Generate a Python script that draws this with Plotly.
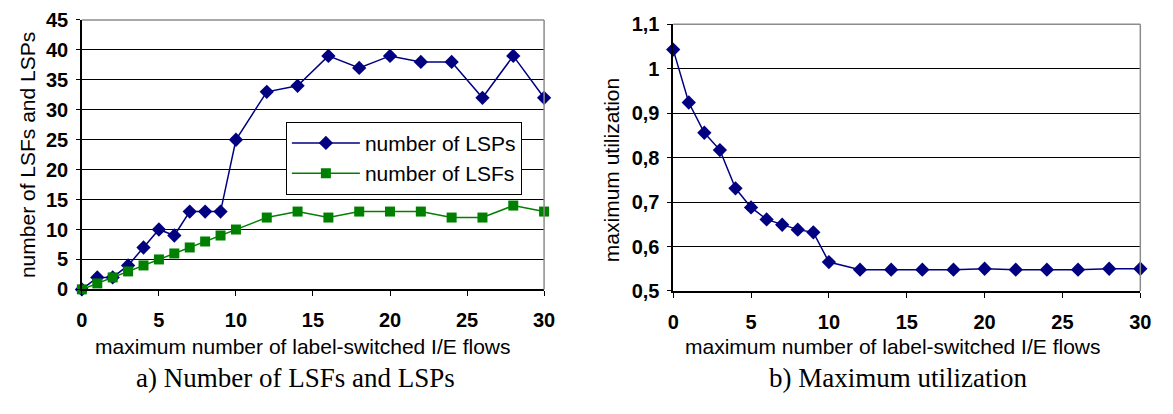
import plotly.graph_objects as go

W, H = 1173, 414

# ---- data ----
flows = [0, 1, 2, 3, 4, 5, 6, 7, 8, 9, 10, 12, 14, 16, 18, 20, 22, 24, 26, 28, 30]
num_lsps = [0, 2, 2, 4, 7, 10, 9, 13, 13, 13, 25, 33, 34, 39, 37, 39, 38, 38, 32, 39, 32]
num_lsfs = [0, 1, 2, 3, 4, 5, 6, 7, 8, 9, 10, 12, 13, 12, 13, 13, 13, 12, 12, 14, 13]
max_util = [1.043, 0.924, 0.856, 0.817, 0.731, 0.688, 0.661, 0.649, 0.638, 0.632, 0.565,
            0.548, 0.548, 0.548, 0.548, 0.550, 0.548, 0.548, 0.548, 0.550, 0.550]

x_ticks = [0, 5, 10, 15, 20, 25, 30]
left_y_ticks = [0, 5, 10, 15, 20, 25, 30, 35, 40, 45]
right_y_ticks = [0.5, 0.6, 0.7, 0.8, 0.9, 1.0, 1.1]
right_y_labels = ["0,5", "0,6", "0,7", "0,8", "0,9", "1", "1,1"]

x_title = "maximum number of label-switched I/E flows"
left_y_title = "number of LSFs and LSPs"
right_y_title = "maximum utilization"
left_caption = "a) Number of LSFs and LSPs"
right_caption = "b) Maximum utilization"

BLUE = "#000080"
GREEN = "#008000"
SANS = "Liberation Sans, Arial, sans-serif"
SERIF = "Liberation Serif, Times New Roman, serif"


def px(x):
    return x / W


def py(y):
    return 1 - y / H


fig = go.Figure()

fig.add_trace(go.Scatter(
    x=flows, y=num_lsps, mode="lines+markers", name="number of LSPs",
    line=dict(color=BLUE, width=1.5),
    marker=dict(symbol="diamond", size=11, color=BLUE),
    cliponaxis=False, xaxis="x", yaxis="y"))
fig.add_trace(go.Scatter(
    x=flows, y=num_lsfs, mode="lines+markers", name="number of LSFs",
    line=dict(color=GREEN, width=1.5),
    marker=dict(symbol="square", size=10, color=GREEN),
    cliponaxis=False, xaxis="x", yaxis="y"))
fig.add_trace(go.Scatter(
    x=flows, y=max_util, mode="lines+markers", name="maximum utilization",
    line=dict(color=BLUE, width=1.5),
    marker=dict(symbol="diamond", size=11, color=BLUE),
    cliponaxis=False, showlegend=False, xaxis="x2", yaxis="y2"))

tickfont = dict(family=SANS, size=20, color="black", weight="bold")

xcommon = dict(range=[0, 30], tickvals=x_ticks, showgrid=False, zeroline=False,
               showline=True, linecolor="black", linewidth=1.5,
               ticks="outside", ticklen=5, tickcolor="black", tickwidth=1.3,
               tickfont=tickfont, ticklabelstandoff=7)
ycommon = dict(showgrid=True, gridcolor="black", gridwidth=1.4, zeroline=False,
               showline=True, linecolor="black", linewidth=1.5,
               ticks="outside", ticklen=4, tickcolor="black", tickwidth=1.3,
               tickfont=tickfont, ticklabelstandoff=4)

fig.update_layout(
    width=W, height=H,
    margin=dict(l=0, r=0, t=0, b=0),
    paper_bgcolor="white", plot_bgcolor="white",
    xaxis=dict(domain=[px(77), px(546)], anchor="y", **xcommon),
    yaxis=dict(domain=[py(294), py(9.5)], anchor="x", range=[0, 45],
               tickvals=left_y_ticks, **ycommon),
    xaxis2=dict(domain=[px(677), px(1151)], anchor="y2", **xcommon),
    yaxis2=dict(domain=[py(295.7), py(14)], anchor="x2", range=[0.5, 1.1],
                tickvals=right_y_ticks, ticktext=right_y_labels, **ycommon),
    showlegend=True,
    legend=dict(x=px(284), y=py(117), xanchor="left", yanchor="top",
                bgcolor="white", bordercolor="black", borderwidth=1,
                font=dict(family=SANS, size=21, color="black"),
                itemwidth=68, tracegroupgap=0),
)

# gray frame on top and right of each plot area
for xr, yr in (("x domain", "y domain"), ("x2 domain", "y2 domain")):
    fig.add_shape(type="line", xref=xr, yref=yr, x0=0, x1=1, y0=1, y1=1,
                  line=dict(color="#8c8c8c", width=1.5), layer="above")
    fig.add_shape(type="line", xref=xr, yref=yr, x0=1, x1=1, y0=0, y1=1,
                  line=dict(color="#8c8c8c", width=1.5), layer="above")

titlefont = dict(family=SANS, size=21, color="black")
capfont = dict(family=SERIF, size=27, color="black")
ann = [
    dict(text=x_title, x=px(301), y=py(354), font=titlefont),
    dict(text=x_title, x=px(900), y=py(354), font=titlefont),
    dict(text=left_y_title, x=px(22), y=py(152.5), textangle=-90, font=titlefont),
    dict(text=right_y_title, x=px(614), y=py(168), textangle=-90, font=titlefont),
    dict(text=left_caption, x=px(294), y=py(388), font=capfont),
    dict(text=right_caption, x=px(905), y=py(388), font=capfont),
]
for a in ann:
    fig.add_annotation(xref="paper", yref="paper", showarrow=False,
                       xanchor="center", yanchor="middle", **a)

fig.write_html("out.html")
